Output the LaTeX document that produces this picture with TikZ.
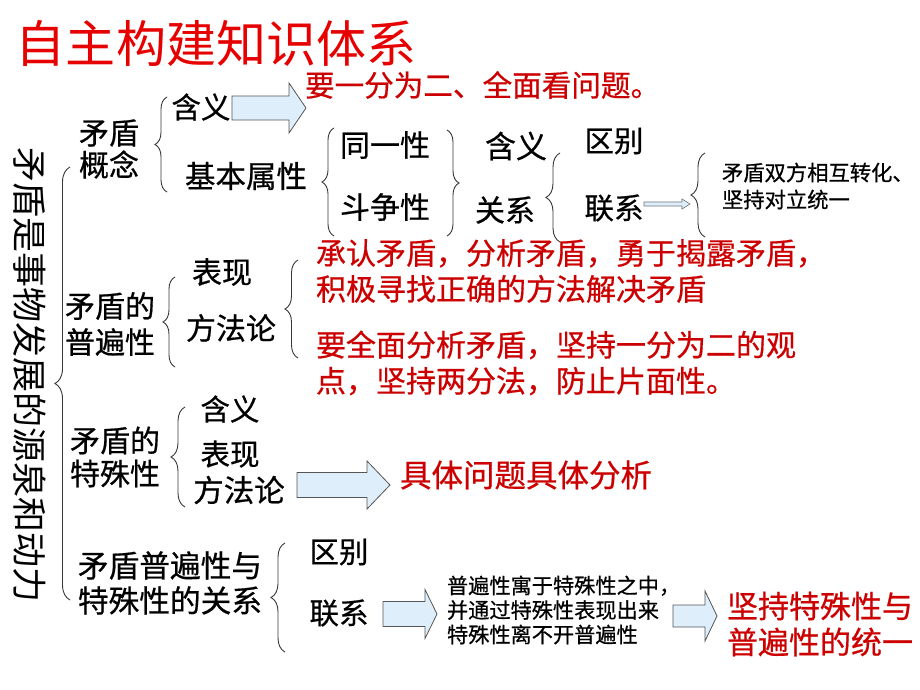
\documentclass[tikz,border=0pt]{standalone}
\usepackage{fontspec}
\newfontfamily\cjk{Noto Sans CJK SC}[FakeBold=0.6]
\newfontfamily\cjklight{Noto Sans CJK SC}
\usetikzlibrary{decorations.pathreplacing}
\definecolor{titlered}{RGB}{230,0,0}
\definecolor{txtred}{RGB}{204,0,0}
\definecolor{arrowfill}{RGB}{222,239,251}
\definecolor{arrowline}{RGB}{85,85,85}
\definecolor{braceline}{RGB}{55,55,55}
\newcommand\blkarrow[6]{\draw[blockarrow] (#1,#4-#5) -- (#3,#4-#5) -- (#3,#4-#6) -- (#2,#4) -- (#3,#4+#6) -- (#3,#4+#5) -- (#1,#4+#5) -- cycle;}
\tikzset{
  base/.style={inner sep=0pt, outer sep=0pt, align=left},
  lbl/.style={base, text=black, font={\cjk\fontsize{29.5}{32}\selectfont}},
  redtxt/.style={base, text=txtred, font={\cjk\fontsize{30}{36}\selectfont}},
  smalltxt/.style={base, text=black, font={\cjk\fontsize{21.3}{27}\selectfont}},
  blockarrow/.style={fill=arrowfill, draw=arrowline, line width=0.8pt, line join=miter},
  brc/.style={draw=braceline, line width=0.9pt, decorate, decoration={brace, amplitude=#1}},
  brc/.default=12pt
}
\begin{document}
\begin{tikzpicture}[x=1pt,y=-1pt]
\fill[white] (0,0) rectangle (920,690);
\useasboundingbox (0,0) rectangle (920,690);

% title
\node[base, text=titlered, font={\cjklight\fontsize{50}{55}\selectfont}] (title) at (216,43) {自主构建知识体系};

% vertical main text
\node[base, rotate=-90, text=black, font={\cjklight\fontsize{35}{38}\selectfont}] (root) at (30,375) {矛盾是事物发展的源泉和动力};
\draw[brc=15pt] (70,600) -- (70,167);

% ---- 矛盾概念
\node[lbl, font={\cjk\fontsize{30}{32}\selectfont}] (gainian) at (109,149) {矛盾\\概念};
\draw[brc] (167,192) -- (167,97);
\node[lbl] (hanyiA) at (201,107) {含义};
\blkarrow{232}{306}{289}{108}{12}{25}
\node[redtxt, anchor=west, font={\cjk\fontsize{29.6}{36}\selectfont}] (yifen) at (305,85) {要一分为二、全面看问题。};
\node[lbl, font={\cjk\fontsize{30.5}{32}\selectfont}] (jiben) at (246,176) {基本属性};
\draw[brc] (334,236) -- (334,128);
\node[lbl, font={\cjk\fontsize{30}{32}\selectfont}] (tongyi) at (385,145) {同一性};
\node[lbl, font={\cjk\fontsize{30}{32}\selectfont}] (douzheng) at (385,207) {斗争性};
\draw[brc] (447,130) -- (447,236);
\node[lbl, font={\cjk\fontsize{31}{32}\selectfont}] (hanyiB) at (516,146) {含义};
\node[lbl, font={\cjk\fontsize{30}{32}\selectfont}] (guanxi) at (505,210) {关系};
\draw[brc=14pt] (560,242) -- (560,153);
\node[lbl] (qubieA) at (614,141) {区别};
\node[lbl] (lianxiA) at (614,208) {联系};
\draw[fill=arrowfill, draw=arrowline!80!arrowfill, line width=0.6pt] (644,202) -- (682,202) -- (682,199) -- (690,204) -- (682,209) -- (682,206) -- (644,206) -- cycle;
\draw[brc=14pt] (705,237) -- (705,153);
\node[smalltxt, anchor=west] (zhuanhua) at (722,186) {矛盾双方相互转化、\\坚持对立统一};

% ---- 矛盾的普遍性
\node[lbl, font={\cjk\fontsize{30}{36}\selectfont}] (pubian) at (110,324) {矛盾的\\普遍性};
\draw[brc] (175,367) -- (175,277);
\node[lbl, font={\cjk\fontsize{30}{32}\selectfont}] (biaoxianA) at (222,272) {表现};
\node[lbl, font={\cjk\fontsize{30}{32}\selectfont}] (fangfaA) at (231,328) {方法论};
\draw[brc=13pt] (298,358) -- (298,260);
\node[redtxt, anchor=west] (chengren) at (316,271) {承认矛盾，分析矛盾，勇于揭露矛盾，\\积极寻找正确的方法解决矛盾};
\node[redtxt, anchor=west] (quanmian) at (316,363) {要全面分析矛盾，坚持一分为二的观\\点，坚持两分法，防止片面性。};

% ---- 矛盾的特殊性
\node[lbl, font={\cjk\fontsize{30}{33}\selectfont}] (teshu) at (115,457) {矛盾的\\特殊性};
\draw[brc=14pt] (185,507) -- (185,407);
\node[lbl] (hanyiC) at (230,409) {含义};
\node[lbl] (biaoxianB) at (230,454) {表现};
\node[lbl, font={\cjk\fontsize{30.5}{32}\selectfont}] (fangfaB) at (239,490) {方法论};
\blkarrow{297}{390}{367}{485}{12.5}{24}
\node[redtxt, anchor=west, font={\cjk\fontsize{31.5}{36}\selectfont}] (juti) at (400,475) {具体问题具体分析};

% ---- 关系
\node[lbl, font={\cjk\fontsize{30.7}{35}\selectfont}] (guanxiB) at (170,583) {矛盾普遍性与\\特殊性的关系};
\draw[brc=14pt] (285,652) -- (285,543);
\node[lbl] (qubieB) at (339,552) {区别};
\node[lbl] (lianxiB) at (339,613) {联系};
\blkarrow{383}{437}{425}{614}{12.5}{24.5}
\node[smalltxt, anchor=west, font={\cjk\fontsize{21.2}{24.5}\selectfont}] (yuyu) at (447,610) {普遍性寓于特殊性之中，\\并通过特殊性表现出来\\特殊性离不开普遍性};
\blkarrow{673}{717}{705}{616}{11}{25}
\node[redtxt, anchor=west, font={\cjk\fontsize{31}{36}\selectfont}] (tongyiB) at (727,624) {坚持特殊性与\\普遍性的统一};
\end{tikzpicture}
\end{document}
